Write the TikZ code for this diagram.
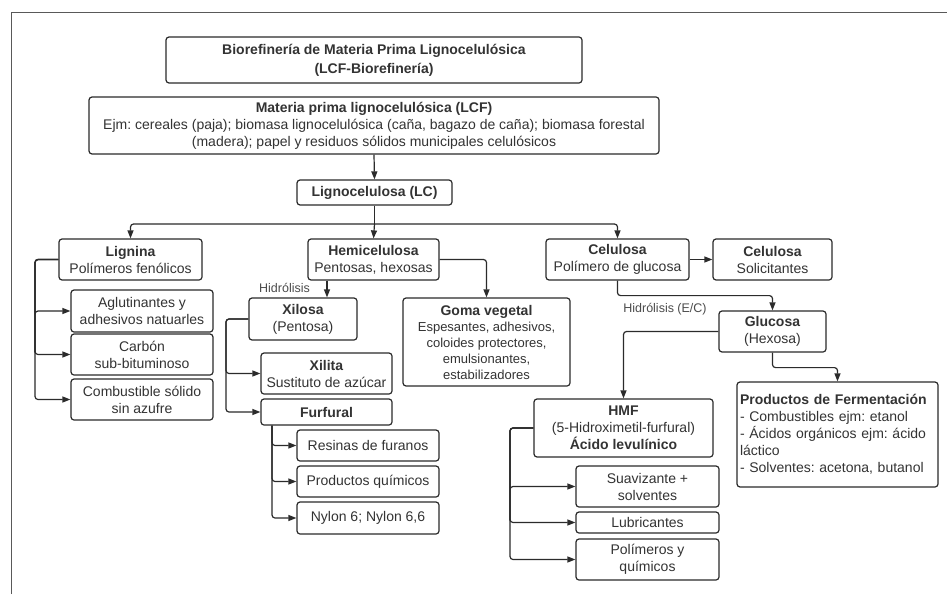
\documentclass[tikz,border=0pt]{standalone}
\usepackage{fontspec}
\setmainfont{Liberation Sans}
\usetikzlibrary{arrows.meta}
\definecolor{ink}{HTML}{2B2B2B}
\definecolor{txt}{HTML}{333333}
\frenchspacing
\begin{document}
\begin{tikzpicture}[x=1pt,y=-1pt,
  box/.style={draw=ink, rounded corners=3pt, line width=1.2pt, align=center, inner sep=0pt,
    font=\fontsize{14}{17}\selectfont\frenchspacing, text=txt},
  smallbox/.style={box, font=\fontsize{13}{16}\selectfont\frenchspacing},
  lbl/.style={font=\fontsize{12.5}{15}\selectfont, text=black!70, inner sep=0pt},
  arr/.style={draw=ink, line width=1.2pt, -{Triangle[length=8pt,width=6pt]}},
  ln/.style={draw=ink, line width=1.2pt}]
\useasboundingbox (0,0) rectangle (947,594);
\fill[white] (0,0) rectangle (947,594);
\draw[line width=1pt, black!65] (11,594) -- (11,13) -- (947,13);

% top
\node[box, minimum width=416, minimum height=46, font=\fontsize{14}{19}\selectfont] (title) at (374,60)
  {\textbf{Biorefinería de Materia Prima Lignocelulósica}\\\textbf{(LCF-Biorefinería)}};
\node[box, minimum width=570, minimum height=57] (lcf) at (374,125.5)
  {\textbf{Materia prima lignocelulósica (LCF)}\\Ejm: cereales (paja); biomasa lignocelulósica (caña, bagazo de caña); biomasa forestal\\(madera); papel y residuos sólidos municipales celulósicos};
\node[box, minimum width=155, minimum height=25] (lc) at (374.5,192.5) {\textbf{Lignocelulosa (LC)}};

% level 2
\node[box, minimum width=143, minimum height=41] (lignina) at (130.5,259.5) {\textbf{Lignina}\\Polímeros fenólicos};
\node[box, minimum width=131, minimum height=41] (hemi) at (373.5,259.5) {\textbf{Hemicelulosa}\\Pentosas, hexosas};
\node[box, minimum width=143, minimum height=41] (celu) at (617.5,259.5) {\textbf{Celulosa}\\Polímero de glucosa};
\node[box, minimum width=119, minimum height=41] (solic) at (772.5,259.5) {\textbf{Celulosa}\\Solicitantes};

% lignina products
\node[box, minimum width=142, minimum height=42] (aglu) at (142,311) {Aglutinantes y\\adhesivos natuarles};
\node[box, minimum width=142, minimum height=41] (carbon) at (142,354.5) {Carbón\\sub-bituminoso};
\node[box, minimum width=142, minimum height=41] (comb) at (142,399.5) {Combustible sólido\\sin azufre};

% hemicelulosa
\node[box, minimum width=108, minimum height=42] (xilosa) at (303,319) {\textbf{Xilosa}\\(Pentosa)};
\node[smallbox, minimum width=167, minimum height=88] (goma) at (486.5,342)
  {{\fontsize{14}{17}\selectfont\textbf{Goma vegetal}}\\Espesantes, adhesivos,\\coloides protectores,\\emulsionantes,\\estabilizadores};
\node[box, minimum width=131, minimum height=41] (xilita) at (326.5,373.5) {\textbf{Xilita}\\Sustituto de azúcar};
\node[box, minimum width=131, minimum height=26] (furf) at (326.5,412) {\textbf{Furfural}};
\node[box, minimum width=142, minimum height=31] (resin) at (368,445.5) {Resinas de furanos};
\node[box, minimum width=142, minimum height=31] (prodq) at (368,481.5) {Productos químicos};
\node[box, minimum width=142, minimum height=32] (nylon) at (368,518) {Nylon 6; Nylon 6,6};

% celulosa
\node[box, minimum width=107, minimum height=41] (gluc) at (772.5,331.5) {\textbf{Glucosa}\\(Hexosa)};
\node[box, minimum width=179, minimum height=58] (hmf) at (623.5,428) {\textbf{HMF}\\(5-Hidroximetil-furfural)\\\textbf{Ácido levulínico}};
\node[box, minimum width=143, minimum height=41] (suav) at (647.5,486.5) {Suavizante +\\solventes};
\node[box, minimum width=143, minimum height=21] (lubri) at (647.5,522.5) {Lubricantes};
\node[box, minimum width=143, minimum height=41] (polim) at (647.5,559.5) {Polímeros y\\químicos};
\node[box, minimum width=201, minimum height=105, align=left, text width=195] (ferm) at (837.5,434.5)
  {\textbf{Productos de Fermentación}\\- Combustibles ejm: etanol\\- Ácidos orgánicos ejm: ácido\\láctico\\- Solventes: acetona, butanol};

% labels
\node[lbl] (h1) at (284.5,288) {Hidrólisis};
\node[lbl] (h2) at (665,309) {Hidrólisis (E/C)};

% connectors
\draw[arr] (lcf.south) -- (lc.north);
\coordinate (jn) at (374.5,224);
\draw[ln] (lc.south) -- (jn);
\draw[arr, rounded corners=3pt] (jn) -| (lignina.north);
\draw[arr, rounded corners=3pt] (jn) -| (celu.north);
\draw[arr] (jn) -- (hemi.north);

\coordinate (lx) at (35,0);
\draw[arr, rounded corners=3pt] (lignina.west) -| (lx |- carbon.west) |- (aglu.west);
\draw[arr, rounded corners=3pt] (lignina.west) -| (lx |- aglu.west) |- (carbon.west);
\draw[arr, rounded corners=3pt] (lignina.west) -| (lx |- carbon.west) |- (comb.west);

\coordinate (hx) at (327,0);
\draw[arr] (hemi.south -| hx) -- (xilosa.north -| hx);
\draw[arr, rounded corners=3pt] (hemi.east) -| (goma.north);

\coordinate (xx) at (226,0);
\draw[arr, rounded corners=3pt] (xilosa.west) -| (xx |- xilita.west) -- (xilita.west);
\draw[arr, rounded corners=3pt] (xilosa.west) -| (xx |- xilita.west) |- (furf.west);

\coordinate (fx) at (272,0);
\draw[arr, rounded corners=3pt] (furf.south -| fx) |- (resin.west);
\draw[arr, rounded corners=3pt] (furf.south -| fx) |- (prodq.west);
\draw[arr, rounded corners=3pt] (furf.south -| fx) |- (nylon.west);

\draw[arr] (celu.east) -- (solic.west);
\draw[arr, rounded corners=3pt] (celu.south) -- ++(0,15) -| (gluc.north);
\draw[arr, rounded corners=3pt] (gluc.west) -| (hmf.north);
\draw[arr, rounded corners=3pt] (gluc.south) -- ++(0,15) -| (ferm.north);

\coordinate (mx) at (510,0);
\draw[arr, rounded corners=3pt] (hmf.west) -| (mx |- lubri.west) |- (suav.west);
\draw[arr, rounded corners=3pt] (hmf.west) -| (mx |- suav.west) |- (lubri.west);
\draw[arr, rounded corners=3pt] (hmf.west) -| (mx |- lubri.west) |- (polim.west);
\end{tikzpicture}
\end{document}
